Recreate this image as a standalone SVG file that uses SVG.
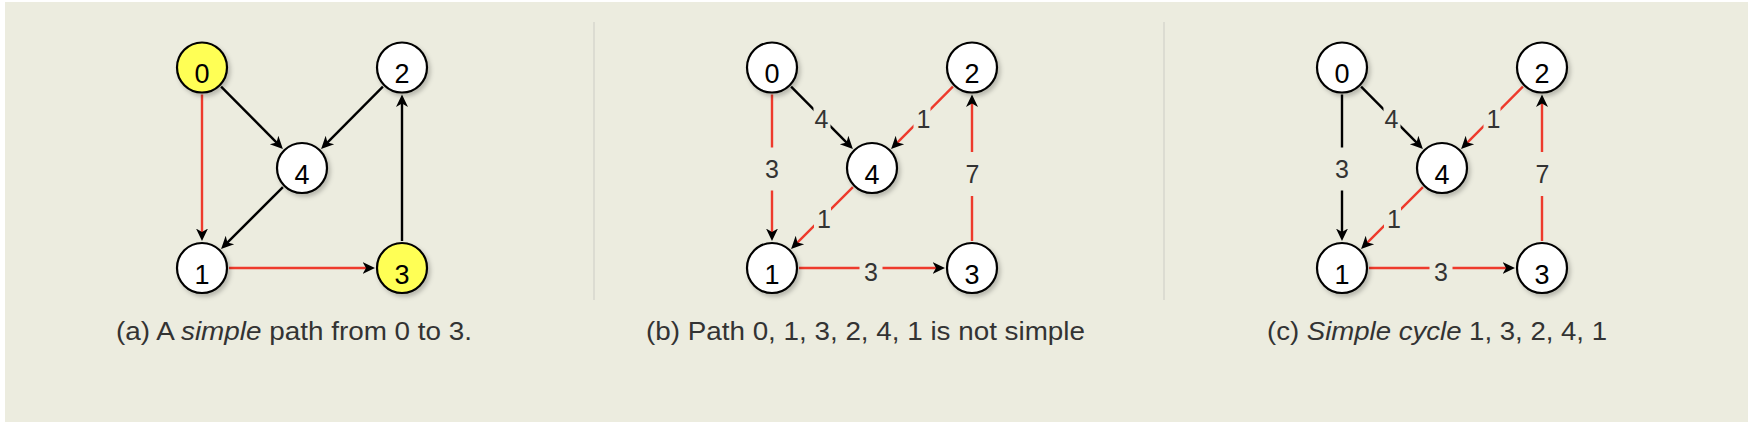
<svg xmlns="http://www.w3.org/2000/svg" width="1748" height="428" viewBox="0 0 1748 428">
<style>
.bg{fill:#ECECDF}
.sep{fill:#DCDCD2}
.nd circle{fill:#FFFFFF;stroke:#000;stroke-width:2.2;filter:url(#sh)}
.nd circle.hl{fill:#FFFF55}
.nd text{font-family:"Liberation Sans",Arial,sans-serif;font-size:27px;text-anchor:middle;fill:#000}
.e{fill:none;stroke-width:2.4;marker-end:url(#arr)}
.r{stroke:#EE3A2C}
.k{stroke:#000}
.lb{fill:#ECECDF}
.lt{font-family:"Liberation Sans",Arial,sans-serif;font-size:25px;text-anchor:middle;fill:#333}
.cap{font-family:"Liberation Sans",Arial,sans-serif;font-size:25px;fill:#333}
</style>
<defs>
<filter id="sh" x="-30%" y="-30%" width="170%" height="170%">
<feDropShadow dx="2.5" dy="3" stdDeviation="2" flood-color="#000" flood-opacity="0.22"/>
</filter>
<marker id="arr" markerUnits="userSpaceOnUse" markerWidth="16" markerHeight="16" viewBox="0 -8 16 16" refX="4" refY="0" orient="auto">
<path d="M0,-6 L12.5,0 L0,6 L3.5,0 Z" fill="#000"/>
</marker>
</defs>
<rect class="bg" x="5" y="2" width="1743" height="420"/>
<rect class="sep" x="593" y="22" width="2" height="278"/>
<rect class="sep" x="1163" y="22" width="2" height="278"/>

<!-- Panel (a) -->
<g id="connectors-a">
<path class="e r" d="M202,94.5 L202,232.5"/>
<path class="e r" d="M229,268 L366.5,268"/>
<path class="e k" d="M221.1,86.6 L276.9,142.9"/>
<path class="e k" d="M382.9,86.6 L327.1,142.9"/>
<path class="e k" d="M282.9,187.1 L227.1,242.9"/>
<path class="e k" d="M402,241 L402,103"/>
</g>
<g id="a-node0" class="nd"><circle class="hl" cx="202" cy="67.5" r="25"/><text x="202" y="83">0</text></g>
<g id="a-node2" class="nd"><circle cx="402" cy="67.5" r="25"/><text x="402" y="83">2</text></g>
<g id="a-node4" class="nd"><circle cx="302" cy="168" r="25"/><text x="302" y="183.5">4</text></g>
<g id="a-node1" class="nd"><circle cx="202" cy="268" r="25"/><text x="202" y="283.5">1</text></g>
<g id="a-node3" class="nd"><circle class="hl" cx="402" cy="268" r="25"/><text x="402" y="283.5">3</text></g>
<text class="cap" x="116" y="340" textLength="356" lengthAdjust="spacingAndGlyphs">(a) A <tspan font-style="italic">simple</tspan> path from 0 to 3.</text>

<!-- Panel (b) -->
<g id="connectors-b" transform="translate(570,0)">
<path class="e r" d="M202,94.5 L202,232.5"/>
<path class="e r" d="M229,268 L366.5,268"/>
<path class="e k" d="M221.1,86.6 L276.9,142.9"/>
<path class="e r" d="M382.9,86.6 L327.1,142.9"/>
<path class="e r" d="M282.9,187.1 L227.1,242.9"/>
<path class="e r" d="M402,241 L402,103"/>
<rect class="lb" x="243.5" y="98" width="17" height="40"/><text class="lt" x="251.5" y="127.5">4</text>
<rect class="lb" x="343.5" y="98" width="17" height="40"/><text class="lt" x="353.5" y="127.5">1</text>
<rect class="lb" x="192" y="147.5" width="20" height="43"/><text class="lt" x="202" y="177.5">3</text>
<rect class="lb" x="392" y="152" width="20" height="44"/><text class="lt" x="402.5" y="182.5">7</text>
<rect class="lb" x="244" y="198" width="17" height="40"/><text class="lt" x="254" y="228">1</text>
<rect class="lb" x="289.5" y="255" width="23" height="26"/><text class="lt" x="301" y="280.5">3</text>
</g>
<g id="b-node0" class="nd"><circle cx="772" cy="67.5" r="25"/><text x="772" y="83">0</text></g>
<g id="b-node2" class="nd"><circle cx="972" cy="67.5" r="25"/><text x="972" y="83">2</text></g>
<g id="b-node4" class="nd"><circle cx="872" cy="168" r="25"/><text x="872" y="183.5">4</text></g>
<g id="b-node1" class="nd"><circle cx="772" cy="268" r="25"/><text x="772" y="283.5">1</text></g>
<g id="b-node3" class="nd"><circle cx="972" cy="268" r="25"/><text x="972" y="283.5">3</text></g>
<text class="cap" x="646" y="340" textLength="439" lengthAdjust="spacingAndGlyphs">(b) Path 0, 1, 3, 2, 4, 1 is not simple</text>

<!-- Panel (c) -->
<g id="connectors-c" transform="translate(1140,0)">
<path class="e k" d="M202,94.5 L202,232.5"/>
<path class="e r" d="M229,268 L366.5,268"/>
<path class="e k" d="M221.1,86.6 L276.9,142.9"/>
<path class="e r" d="M382.9,86.6 L327.1,142.9"/>
<path class="e r" d="M282.9,187.1 L227.1,242.9"/>
<path class="e r" d="M402,241 L402,103"/>
<rect class="lb" x="243.5" y="98" width="17" height="40"/><text class="lt" x="251.5" y="127.5">4</text>
<rect class="lb" x="343.5" y="98" width="17" height="40"/><text class="lt" x="353.5" y="127.5">1</text>
<rect class="lb" x="192" y="147.5" width="20" height="43"/><text class="lt" x="202" y="177.5">3</text>
<rect class="lb" x="392" y="152" width="20" height="44"/><text class="lt" x="402.5" y="182.5">7</text>
<rect class="lb" x="244" y="198" width="17" height="40"/><text class="lt" x="254" y="228">1</text>
<rect class="lb" x="289.5" y="255" width="23" height="26"/><text class="lt" x="301" y="280.5">3</text>
</g>
<g id="c-node0" class="nd"><circle cx="1342" cy="67.5" r="25"/><text x="1342" y="83">0</text></g>
<g id="c-node2" class="nd"><circle cx="1542" cy="67.5" r="25"/><text x="1542" y="83">2</text></g>
<g id="c-node4" class="nd"><circle cx="1442" cy="168" r="25"/><text x="1442" y="183.5">4</text></g>
<g id="c-node1" class="nd"><circle cx="1342" cy="268" r="25"/><text x="1342" y="283.5">1</text></g>
<g id="c-node3" class="nd"><circle cx="1542" cy="268" r="25"/><text x="1542" y="283.5">3</text></g>
<text class="cap" x="1267" y="340" textLength="340" lengthAdjust="spacingAndGlyphs">(c) <tspan font-style="italic">Simple cycle</tspan> 1, 3, 2, 4, 1</text>
</svg>
